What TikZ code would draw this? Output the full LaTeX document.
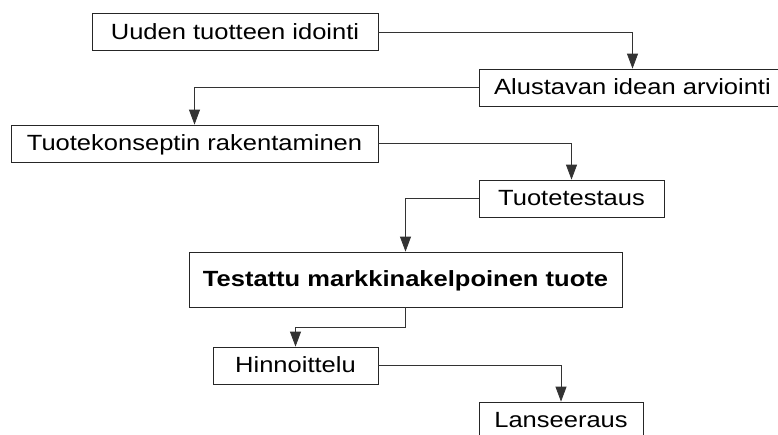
\documentclass[tikz,border=0pt]{standalone}
\usepackage{fontspec}
\setmainfont{Liberation Sans}[FakeStretch=1.16]
\usetikzlibrary{arrows.meta}

\begin{document}
\begin{tikzpicture}[
    x=1pt, y=-1pt,
    box/.style={rectangle, draw=black!85, line width=0.8pt, fill=white,
      inner sep=0pt, minimum height=37pt, text height=16pt, text depth=1.5pt,
      font=\fontsize{22}{26}\selectfont},
    arrow/.style={->, draw=black!80, line width=0.8pt},
    >={Triangle[length=15pt,width=11pt]}
]
\fill[white] (0,0) rectangle (778,434);
\clip (0,0) rectangle (778,434);

% Steps
\node[box, minimum width=286pt] (idea) at (235,32) {Uuden tuotteen idointi};
\node[box, minimum width=307pt] (eval) at (632.5,87.5) {Alustavan idean arviointi};
\node[box, minimum width=367pt] (concept) at (194.5,143.5) {Tuotekonseptin rakentaminen};
\node[box, minimum width=185pt] (testing) at (571.5,198.5) {Tuotetestaus};
\node[box, minimum width=433pt, minimum height=55pt,
      font=\fontsize{22}{26}\selectfont\bfseries] (product) at (405.5,279.5) {Testattu markkinakelpoinen tuote};
\node[box, minimum width=165pt] (pricing) at (295.5,365.5) {Hinnoittelu};
\node[box, minimum width=164pt] (launch) at (561,420.5) {Lanseeraus};

% Connections
\draw[arrow] (idea.east) -| (eval.north);
\draw[arrow] (eval.west) -| (concept.north);
\draw[arrow] (concept.east) -| (testing.north);
\draw[arrow] (testing.west) -| (product.north);
\draw[arrow] (product.south) -- ++(0,20) -| (pricing.north);
\draw[arrow] (pricing.east) -| (launch.north);

\end{tikzpicture}
\end{document}
